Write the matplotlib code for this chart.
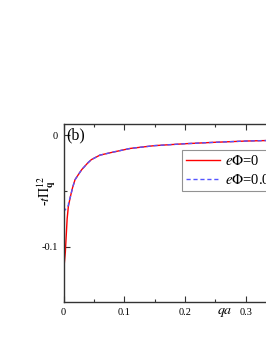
import matplotlib
matplotlib.use("Agg")
import matplotlib.pyplot as plt
from matplotlib.ticker import MultipleLocator

plt.rcParams['font.family'] = ['Liberation Serif', 'DejaVu Serif']
plt.rcParams['mathtext.fontset'] = 'stix'

# Data
x_red = [0.0, 0.003, 0.006, 0.008, 0.011, 0.015, 0.019, 0.025, 0.03, 0.04, 0.046,
         0.06, 0.08, 0.11, 0.15, 0.2, 0.25, 0.3, 0.36]
y_red = [-0.123, -0.105, -0.075, -0.064, -0.056, -0.047, -0.040, -0.035, -0.031, -0.025,
         -0.022, -0.018, -0.0155, -0.012, -0.0095, -0.0078, -0.0065, -0.0054, -0.0046]
x_blue = [0.0, 0.004, 0.008, 0.0085, 0.011, 0.015, 0.019, 0.025, 0.03, 0.04, 0.046,
          0.06, 0.08, 0.11, 0.15, 0.2, 0.25, 0.3, 0.36]
y_blue = [-0.069, -0.066, -0.063, -0.060, -0.056, -0.047, -0.040, -0.035, -0.031, -0.025,
          -0.022, -0.018, -0.0155, -0.012, -0.0095, -0.0078, -0.0065, -0.0054, -0.0046]
labels = [r'$e\Phi$=0', r'$e\Phi$=0.01']
xticks = [0, 0.1, 0.2, 0.3]
xticklabels = ['0', '0.1', '0.2', '0.3']
yticks = [-0.1, 0]
yticklabels = ['-0.1', '0']

W, H = 266, 344
fig = plt.figure(figsize=(W / 100, H / 100), dpi=100)
left, right_px, top, bottom = 63.5, 63.5 + 0.36 * 607, 124.3, 302
ax = fig.add_axes([left / W, 1 - bottom / H, (right_px - left) / W, (bottom - top) / H])

ax.plot(x_red, y_red, color='red', lw=1.0, label=labels[0])
ax.plot(x_blue, y_blue, color='#5555ff', lw=1.0, ls=(0, (3, 2)), label=labels[1])

ax.set_xlim(0, 0.36)
ax.set_ylim(-0.1495, 0.0096)
ax.set_xticks(xticks)
ax.set_xticklabels(xticklabels)
ax.set_yticks(yticks)
ax.set_yticklabels(yticklabels)
ax.xaxis.set_minor_locator(MultipleLocator(0.05))
ax.yaxis.set_minor_locator(MultipleLocator(0.05))
ax.tick_params(which='both', direction='in', top=True, right=True, labelsize=7.5,
               color='#333333', width=0.8)
ax.tick_params(which='major', length=4, pad=4)
ax.tick_params(which='minor', length=2.5)
for s in ax.spines.values():
    s.set_linewidth(1.0)
    s.set_color('#333333')

ax.text(0.266, -0.1495 - 0.0095, r'$qa$', fontsize=10, ha='center', va='center')
ax.text(0.0053, 0.0, '(b)', fontsize=11.5, ha='left', va='center')
fig.text(47 / W, 1 - 191 / H, r'-$t\Pi_{\mathbf{q}}^{12}$', rotation=90,
         fontsize=10, ha='center', va='center')

leg = ax.legend(loc='upper left', bbox_to_anchor=(181.7 / W, 1 - 150 / H),
                bbox_transform=fig.transFigure, fontsize=10.5, frameon=True,
                fancybox=False, borderaxespad=0, handlelength=2.3,
                handletextpad=0.35, borderpad=0.3, labelspacing=0.3)
leg.get_frame().set_edgecolor('#777777')
leg.get_frame().set_linewidth(0.8)

fig.savefig('out.png', dpi=100)
